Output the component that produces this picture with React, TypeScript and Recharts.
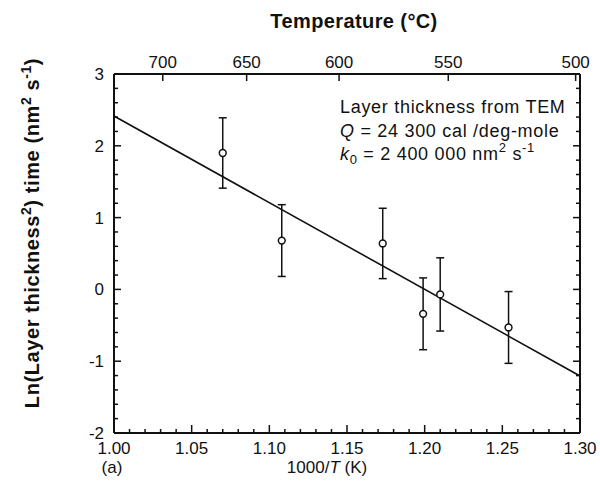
import {
  ComposedChart,
  ErrorBar,
  Scatter,
  XAxis,
  YAxis,
} from 'recharts';

// measured points (1000/T in K^-1, ln rate) with ±error
const invT = [1.07, 1.108, 1.173, 1.199, 1.21, 1.254];
const lnRate = [1.9, 0.68, 0.64, -0.34, -0.07, -0.53];
const errLn = [0.49, 0.5, 0.49, 0.5, 0.51, 0.5];

// fitted Arrhenius line, end points
const fitX = [1.0, 1.3];
const fitY = [2.415, -1.206];

// top axis: temperature in °C at their 1000/T positions
const tempLabels = ['700', '650', '600', '550', '500'];
const tempAt = [1.0314, 1.0854, 1.1449, 1.2152, 1.2972];

const xMajor = [1.0, 1.05, 1.1, 1.15, 1.2, 1.25, 1.3];
const yMajor = [-2, -1, 0, 1, 2, 3];

const xTicks = Array.from({ length: 31 }, (_, i) => Number((1 + i * 0.01).toFixed(2)));
const yTicks = Array.from({ length: 26 }, (_, i) => Number((-2 + i * 0.2).toFixed(1)));

const points = invT.map((x, i) => ({ x, y: lnRate[i], err: errLn[i] }));
const fitLine = fitX.map((x, i) => ({ x, y: fitY[i] }));

const FONT = '"Liberation Sans", Arial, sans-serif';
const INK = '#111';

const isMajorX = (v: number) => xMajor.some((m) => Math.abs(m - v) < 1e-6);
const isMajorY = (v: number) => yMajor.some((m) => Math.abs(m - v) < 1e-6);

function BottomTick({ x, y, payload }: any) {
  const major = isMajorX(payload.value);
  return (
    <g>
      <line x1={x} x2={x} y1={y} y2={y - (major ? 8 : 4)} stroke={INK} strokeWidth={1.5} />
      {major && (
        <text x={x} y={y + 21} textAnchor="middle" fontFamily={FONT} fontSize={17} fill={INK}>
          {payload.value.toFixed(2)}
        </text>
      )}
    </g>
  );
}

function TopTick({ x, y, payload }: any) {
  const idx = tempAt.findIndex((t) => Math.abs(t - payload.value) < 1e-6);
  return (
    <g>
      <line x1={x} x2={x} y1={y} y2={y + 7} stroke={INK} strokeWidth={1.5} />
      <text x={x} y={y - 6} textAnchor="middle" fontFamily={FONT} fontSize={17} fill={INK}>
        {tempLabels[idx]}
      </text>
    </g>
  );
}

function LeftTick({ x, y, payload }: any) {
  const major = isMajorY(payload.value);
  return (
    <g>
      <line x1={x} x2={x + (major ? 7 : 4)} y1={y} y2={y} stroke={INK} strokeWidth={1.5} />
      {major && (
        <text x={x - 10} y={y + 6} textAnchor="end" fontFamily={FONT} fontSize={17} fill={INK}>
          {payload.value}
        </text>
      )}
    </g>
  );
}

function RightTick({ x, y, payload }: any) {
  const major = isMajorY(payload.value);
  return <line x1={x} x2={x - (major ? 7 : 4)} y1={y} y2={y} stroke={INK} strokeWidth={1.5} />;
}

const OpenCircle = ({ cx, cy }: any) => (
  <circle cx={cx} cy={cy} r={3.4} fill="#fff" stroke={INK} strokeWidth={1.5} />
);

const axisLine = { stroke: INK, strokeWidth: 2 };

export default function App() {
  return (
    <div style={{ position: 'absolute', left: 0, top: 0, width: 600, height: 487, background: '#fff' }}>
      <ComposedChart width={600} height={487} margin={{ top: 0, right: 0, bottom: 0, left: 0 }}>
        <XAxis
          dataKey="x"
          type="number"
          domain={[1.0, 1.3]}
          ticks={xTicks}
          interval={0}
          height={54}
          tickSize={0}
          tickMargin={0}
          tickLine={false}
          axisLine={axisLine}
          tick={(p: any) => <BottomTick {...p} />}
          allowDataOverflow
        />
        <XAxis
          xAxisId="top"
          dataKey="x"
          orientation="top"
          type="number"
          domain={[1.0, 1.3]}
          ticks={tempAt}
          interval={0}
          height={74}
          tickSize={0}
          tickMargin={0}
          tickLine={false}
          axisLine={axisLine}
          tick={(p: any) => <TopTick {...p} />}
          allowDataOverflow
        />
        <YAxis
          dataKey="y"
          type="number"
          domain={[-2, 3]}
          ticks={yTicks}
          interval={0}
          width={114}
          tickSize={0}
          tickMargin={0}
          tickLine={false}
          axisLine={axisLine}
          tick={(p: any) => <LeftTick {...p} />}
          allowDataOverflow
        />
        <YAxis
          yAxisId="right"
          orientation="right"
          type="number"
          domain={[-2, 3]}
          ticks={yTicks}
          interval={0}
          width={20}
          tickSize={0}
          tickMargin={0}
          tickLine={false}
          axisLine={axisLine}
          tick={(p: any) => <RightTick {...p} />}
          allowDataOverflow
        />
        <Scatter
          xAxisId="top"
          data={fitLine}
          line={{ stroke: INK, strokeWidth: 1.6 }}
          shape={() => <g />}
          isAnimationActive={false}
        />
        <Scatter data={points} shape={<OpenCircle />} isAnimationActive={false}>
          <ErrorBar dataKey="err" direction="y" width={4} stroke={INK} strokeWidth={1.5} />
        </Scatter>
      </ComposedChart>
      <svg
        width={600}
        height={487}
        style={{ position: 'absolute', left: 0, top: 0, pointerEvents: 'none', whiteSpace: 'pre' }}
      >
        <text
          x={354}
          y={28}
          textAnchor="middle"
          fontFamily={FONT}
          fontSize={20}
          fontWeight="bold"
          letterSpacing={0.4}
          fill={INK}
        >
          Temperature (°C)
        </text>
        <text
          transform="translate(39 233) rotate(-90)"
          textAnchor="middle"
          fontFamily={FONT}
          fontSize={20}
          fontWeight="bold"
          letterSpacing={0.6}
          fill={INK}
        >
          Ln(Layer  thickness
          <tspan dy={-8} fontSize={14}>2</tspan>
          <tspan dy={8}>) time (nm</tspan>
          <tspan dy={-8} fontSize={14}>2</tspan>
          <tspan dy={8}>  s</tspan>
          <tspan dy={-8} fontSize={14}>-1</tspan>
          <tspan dy={8}>)</tspan>
        </text>
        <g fontFamily={FONT} fontSize={18} fill={INK} letterSpacing={0.7}>
          <text x={340} y={113}>Layer thickness from TEM</text>
          <text x={340} y={137}>
            <tspan fontStyle="italic">Q</tspan> = 24 300 cal /deg-mole
          </text>
          <text x={340} y={160}>
            <tspan fontStyle="italic">k</tspan>
            <tspan dy={4} fontSize={13}>0</tspan>
            <tspan dy={-4}> = 2 400 000 nm</tspan>
            <tspan dy={-8} fontSize={13}>2</tspan>
            <tspan dy={8}> s</tspan>
            <tspan dy={-8} fontSize={13}>-1</tspan>
          </text>
        </g>
        <text x={112} y={473} textAnchor="middle" fontFamily={FONT} fontSize={17} fill={INK}>
          (a)
        </text>
        <text x={327} y={473} textAnchor="middle" fontFamily={FONT} fontSize={17} fill={INK}>
          1000/<tspan fontStyle="italic">T</tspan> (K)
        </text>
      </svg>
    </div>
  );
}
